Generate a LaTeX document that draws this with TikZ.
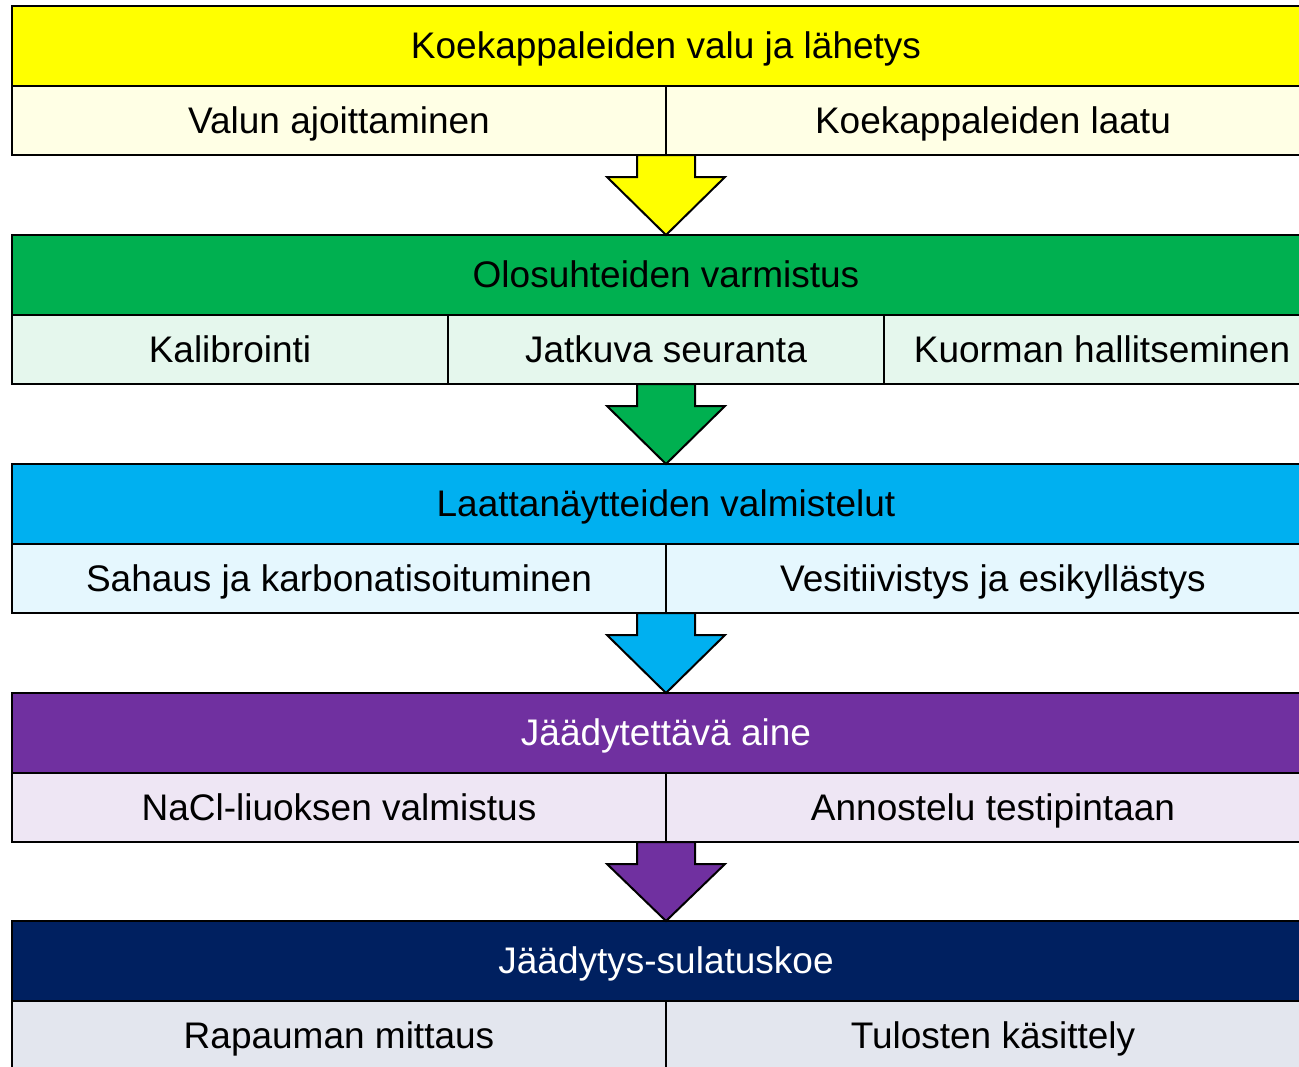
\documentclass[tikz,border=0pt]{standalone}
\usepackage{fontspec}
\setmainfont{Liberation Sans}
\usetikzlibrary{calc}

\definecolor{cyellow}{HTML}{FFFF00}
\definecolor{cgreen}{HTML}{00B050}
\definecolor{cblue}{HTML}{00B0F0}
\definecolor{cpurple}{HTML}{7030A0}
\definecolor{cnavy}{HTML}{002060}

% one unit = one pixel of the 1299 x 1067 canvas
\tikzset{
  x=0.75pt, y=-0.75pt,
  every node/.style={font=\fontsize{27.75}{33}\selectfont, inner sep=0pt, outer sep=0pt,
                     text height=22.5pt, text depth=3.5pt},
  hdr/.style={draw=black, line width=1.5pt, minimum width=981pt, minimum height=60pt},
  half/.style={draw=black, line width=1.5pt, minimum width=490.5pt, minimum height=51.75pt, anchor=north west},
  third/.style={draw=black, line width=1.5pt, minimum width=327pt, minimum height=51.75pt, anchor=north west},
  bigarrow/.style={draw=black, line width=1.5pt, line join=miter},
}

% fat down arrow from a coordinate (shaft top) to the top of a header node
\newcommand\fatdown[3]{%
  \draw[bigarrow, fill=#3]
    ($(#1)+(-29,0)$) -- ($(#1)+(29,0)$) -- ($(#1)+(29,22)$) -- ($(#1)+(59,22)$)
    -- (#2.north) -- ($(#1)+(-59,22)$) -- ($(#1)+(-29,22)$) -- cycle;}

\begin{document}
\begin{tikzpicture}
\useasboundingbox (0,0) rectangle (1299,1067);
\clip (0,0) rectangle (1299,1067);

% block 1
\node[hdr, fill=cyellow] (h1) at (666,46) {Koekappaleiden valu ja lähetys};
\node[half, fill=cyellow!10] (c11) at (h1.south west) {Valun ajoittaminen};
\node[half, fill=cyellow!10] (c12) at (c11.north east) {Koekappaleiden laatu};

% block 2
\node[hdr, fill=cgreen] (h2) at (666,275) {Olosuhteiden varmistus};
\node[third, fill=cgreen!10] (c21) at (h2.south west) {Kalibrointi};
\node[third, fill=cgreen!10] (c22) at (c21.north east) {Jatkuva seuranta};
\node[third, fill=cgreen!10] (c23) at (c22.north east) {Kuorman hallitseminen};

% block 3
\node[hdr, fill=cblue] (h3) at (666,504) {Laattanäytteiden valmistelut};
\node[half, fill=cblue!10] (c31) at (h3.south west) {Sahaus ja karbonatisoituminen};
\node[half, fill=cblue!10] (c32) at (c31.north east) {Vesitiivistys ja esikyllästys};

% block 4
\node[hdr, fill=cpurple, text=white] (h4) at (666,733) {Jäädytettävä aine};
\node[half, fill=cpurple!12] (c41) at (h4.south west) {NaCl-liuoksen valmistus};
\node[half, fill=cpurple!12] (c42) at (c41.north east) {Annostelu testipintaan};

% block 5
\node[hdr, fill=cnavy, text=white] (h5) at (666,961) {Jäädytys-sulatuskoe};
\node[half, fill=cnavy!11] (c51) at (h5.south west) {Rapauman mittaus};
\node[half, fill=cnavy!11] (c52) at (c51.north east) {Tulosten käsittely};

% arrows between the blocks
\coordinate (a1) at (h1 |- c11.south);
\coordinate (a2) at (h2 |- c21.south);
\coordinate (a3) at (h3 |- c31.south);
\coordinate (a4) at (h4 |- c41.south);
\fatdown{a1}{h2}{cyellow}
\fatdown{a2}{h3}{cgreen}
\fatdown{a3}{h4}{cblue}
\fatdown{a4}{h5}{cpurple}
\end{tikzpicture}
\end{document}
